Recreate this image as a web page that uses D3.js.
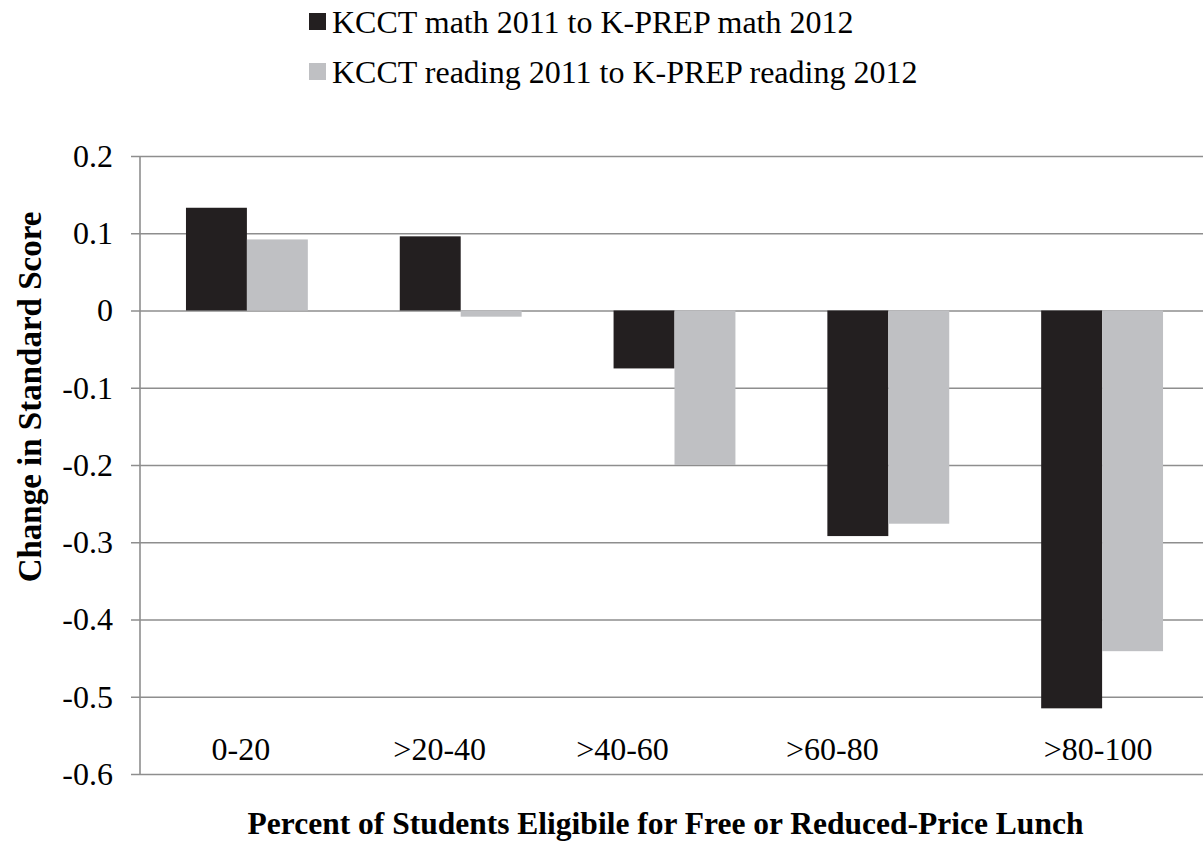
<!DOCTYPE html>
<html>
<head>
<meta charset="utf-8">
<script src="https://cdn.jsdelivr.net/npm/d3@7"></script>
<style>
  body { margin: 0; background: #fff; }
</style>
</head>
<body>
<div id="chart"></div>
<script>
// categories and series values
const categories = ['0-20', '>20-40', '>40-60', '>60-80', '>80-100'];
const seriesNames = ['KCCT math 2011 to K-PREP math 2012', 'KCCT reading 2011 to K-PREP reading 2012'];
const mathValues = [0.133, 0.096, -0.075, -0.292, -0.515];
const readingValues = [0.092, -0.008, -0.2, -0.276, -0.441];
const yTicks = [0.2, 0.1, 0, -0.1, -0.2, -0.3, -0.4, -0.5, -0.6];
const seriesColors = ['#231f20', '#bfc0c3'];

const width = 1203, height = 843;
const serif = "'Liberation Serif', 'Times New Roman', Times, 'DejaVu Serif', serif";
// plot area (right side runs slightly past the window, like the source)
const margin = { top: 156, right: -6, bottom: 69, left: 140 };
// the source has its category labels hand-nudged off the band centres
const labelNudge = [-6, -21, -52, -56, -4];

const svg = d3.select('#chart')
  .append('svg')
  .attr('width', width)
  .attr('height', height)
  .attr('font-family', serif);

const x = d3.scaleBand()
  .domain(categories)
  .range([margin.left, width - margin.right])
  .paddingInner(0.43)
  .paddingOuter(0.215);

const xs = d3.scaleBand()
  .domain([0, 1])
  .range([0, x.bandwidth()]);

const y = d3.scaleLinear()
  .domain([-0.6, 0.2])
  .range([height - margin.bottom, margin.top]);

// gridlines + tick marks
const grid = svg.append('g')
  .attr('transform', 'translate(' + margin.left + ',0)')
  .call(d3.axisLeft(y).tickValues(yTicks).tickSize(-(width - margin.right - margin.left)).tickSizeOuter(0).tickFormat(''));
grid.select('.domain').remove();
grid.selectAll('.tick line')
  .attr('x1', -9)
  .attr('stroke', '#8e8e8e')
  .attr('stroke-width', 1.6);

// bars
const rows = categories.map((c, i) => ({ cat: c, vals: [mathValues[i], readingValues[i]] }));
const groups = svg.selectAll('.grp')
  .data(rows)
  .enter()
  .append('g')
  .attr('transform', d => 'translate(' + x(d.cat) + ',0)');

groups.selectAll('rect')
  .data(d => d.vals.map((v, k) => ({ k: k, v: v })))
  .enter()
  .append('rect')
  .attr('x', d => xs(d.k))
  .attr('width', xs.bandwidth())
  .attr('y', d => y(Math.max(0, d.v)))
  .attr('height', d => Math.abs(y(d.v) - y(0)))
  .attr('fill', d => seriesColors[d.k]);

// vertical axis line
svg.append('line')
  .attr('x1', margin.left).attr('x2', margin.left)
  .attr('y1', y(0.2)).attr('y2', y(-0.6))
  .attr('stroke', '#8e8e8e')
  .attr('stroke-width', 1.6);

// y tick labels
svg.selectAll('.ylab')
  .data(yTicks)
  .enter()
  .append('text')
  .attr('x', 113)
  .attr('y', d => y(d))
  .attr('dy', '0.34em')
  .attr('text-anchor', 'end')
  .attr('font-family', serif)
  .attr('font-size', 32)
  .attr('fill', '#000')
  .text(d => d === 0 ? '0' : d3.format('.1f')(d).replace('−', '-'));

// category labels, inside the plot near the bottom
svg.selectAll('.xlab')
  .data(categories)
  .enter()
  .append('text')
  .attr('x', (d, i) => x(d) + x.bandwidth() / 2 + labelNudge[i])
  .attr('y', 760)
  .attr('text-anchor', 'middle')
  .attr('font-family', serif)
  .attr('font-size', 32)
  .attr('fill', '#000')
  .text(d => d);

// axis titles
svg.append('text')
  .attr('x', (margin.left + width - margin.right) / 2 - 9)
  .attr('y', 834)
  .attr('text-anchor', 'middle')
  .attr('font-family', serif)
  .attr('font-size', 31.5)
  .attr('font-weight', 'bold')
  .attr('fill', '#000')
  .text('Percent of Students Eligibile for Free or Reduced-Price Lunch');

svg.append('text')
  .attr('transform', 'translate(41,' + 397 + ') rotate(-90)')
  .attr('text-anchor', 'middle')
  .attr('font-family', serif)
  .attr('font-size', 33)
  .attr('font-weight', 'bold')
  .attr('fill', '#000')
  .text('Change in Standard Score');

// legend
const legend = svg.selectAll('.leg')
  .data(seriesNames)
  .enter()
  .append('g')
  .attr('transform', (d, i) => 'translate(309,' + (33 + i * 50) + ')');

legend.append('rect')
  .attr('x', 0)
  .attr('y', -20)
  .attr('width', 17)
  .attr('height', 17)
  .attr('fill', (d, i) => seriesColors[i]);

legend.append('text')
  .attr('x', 23)
  .attr('y', 0)
  .attr('font-family', serif)
  .attr('font-size', 32)
  .attr('fill', '#000')
  .text(d => d);
</script>
</body>
</html>
